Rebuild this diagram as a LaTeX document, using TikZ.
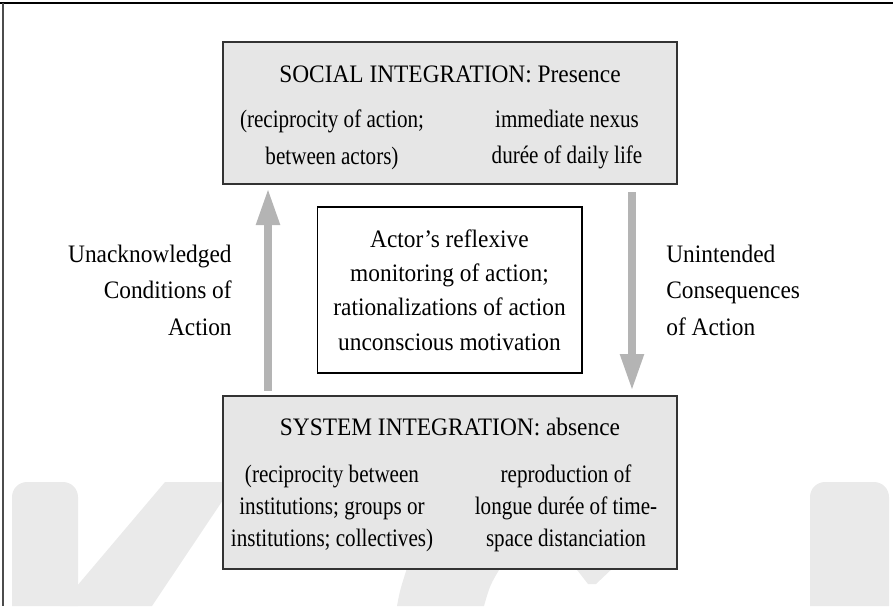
\documentclass[tikz,border=0pt]{standalone}
\usepackage{fontspec}
\setmainfont{Liberation Serif}[FakeStretch=0.93]
\newfontfamily\slimfont{Liberation Serif}[FakeStretch=0.84]
\usetikzlibrary{arrows.meta}

\definecolor{panelgray}{HTML}{E6E6E6}
\definecolor{flowgray}{HTML}{B4B4B4}
\definecolor{markgray}{HTML}{EAEAEA}

\tikzset{
  panel/.style={draw=black!80, line width=0.7pt, fill=panelgray, inner sep=0pt},
  core/.style={draw=black, line width=0.6pt, fill=white, inner sep=0pt},
  txt/.style={inner sep=0pt, align=center, font=\fontsize{14.3}{21}\selectfont},
  slim/.style={txt, font=\slimfont\fontsize{14.3}{#1}\selectfont},
  flow/.style={draw=flowgray, line width=0.16cm, -{Triangle[width=0.44cm,length=0.74cm]}},
}

\begin{document}
\begin{tikzpicture}[x=0.02cm,y=-0.02cm]
  \useasboundingbox (0,0) rectangle (893,606);

  %% watermark
  \fill[markgray] (12,606) [rounded corners=0.3cm] -- (12,482) -- (78,482) [sharp corners] -- (78,606) -- cycle;
  \fill[markgray] (165,482) -- (235,482) -- (152,606) -- (60,606) -- cycle;
  \fill[markgray] (408,565) -- (502,565) .. controls (490,585) .. (484,606) -- (397,606) .. controls (400,590) .. (408,565) -- cycle;
  \fill[markgray] (574,566) -- (615,566) -- (596,584) -- (588,584) -- cycle;
  \fill[markgray] (810,606) [rounded corners=0.3cm] -- (810,482) -- (889,482) [sharp corners] -- (889,606) -- cycle;

  %% frame
  \draw[line width=1.2pt] (0,3) -- (893,3);
  \draw[line width=0.8pt, black!70] (3,3) -- (3,606);

  %% boxes
  \node[panel, minimum width=9.08cm, minimum height=2.84cm] (social) at (450,113) {};
  \node[panel, minimum width=9.08cm, minimum height=3.46cm] (system) at (450,482.5) {};
  \node[core, minimum width=5.3cm, minimum height=3.32cm] (actor) at (449.5,290) {};

  %% social integration
  \node[txt, anchor=base] (socialT) at (450,82) {SOCIAL INTEGRATION: Presence};
  \node[slim=21] (socialL) at (332,139.5) {(reciprocity of action;\\between actors)};
  \node[slim=21] (socialR) at (567,139.5) {immediate nexus\\durée of daily life};

  %% system integration
  \node[txt, anchor=base] (systemT) at (450,435) {SYSTEM INTEGRATION: absence};
  \node[slim=18.2] (systemL) at (332,508.5) {(reciprocity between\\institutions; groups or\\institutions; collectives)};
  \node[slim=18.2] (systemR) at (566,508.5) {reproduction of\\longue durée of time-\\space distanciation};

  %% actor
  \node[txt, font=\fontsize{14.3}{19.5}\selectfont] (actorT) at (449.5,290) {Actor's reflexive\\monitoring of action;\\rationalizations of action\\unconscious motivation};

  %% side labels
  \node[txt, font=\fontsize{14.3}{20.8}\selectfont, align=right, anchor=east] (condL) at (232,290) {Unacknowledged\\Conditions of\\Action};
  \node[txt, font=\fontsize{14.3}{20.8}\selectfont, align=left, anchor=west] (consR) at (666,290) {Unintended\\Consequences\\of Action};

  %% arrows
  \coordinate (upFrom) at (268,391);
  \coordinate (upTo) at (268,188);
  \coordinate (downFrom) at (632,192);
  \coordinate (downTo) at (632,391);
  \draw[flow] (upFrom) -- (upTo);
  \draw[flow] (downFrom) -- (downTo);

\end{tikzpicture}
\end{document}
